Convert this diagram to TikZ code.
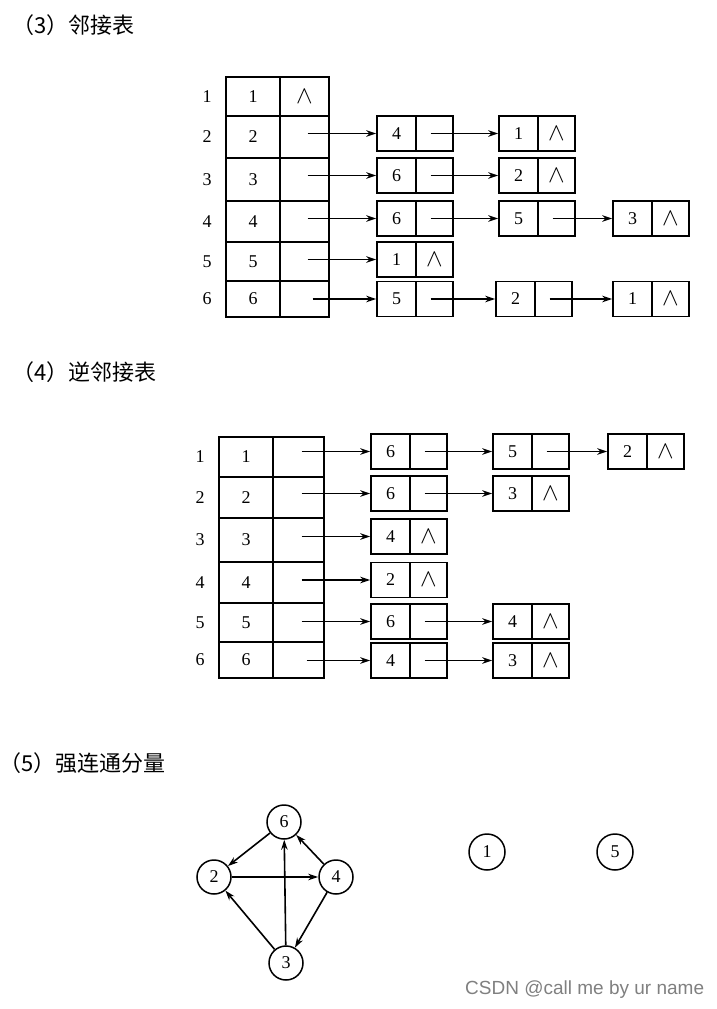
\documentclass[tikz,border=0pt]{standalone}
\usepackage{fontspec}
\setmainfont{Liberation Serif}
\newfontfamily\cjk{Noto Sans CJK SC}
\newfontfamily\wmfont{Liberation Sans}
\usetikzlibrary{arrows.meta}
\tikzset{
  cell/.style={draw, line width=1.6pt, inner sep=0pt, font=\fontsize{18}{18}\selectfont},
  nilsym/.style={inner sep=0pt, font=\fontsize{24}{24}\selectfont},
  rowlab/.style={inner sep=0pt, font=\fontsize{18}{18}\selectfont},
  arr/.style={-{Stealth[length=10pt,width=6.5pt]}, line width=1.6pt},
  gnode/.style={circle, draw, line width=1.5pt, minimum size=34pt, inner sep=0pt, font=\fontsize{18}{18}\selectfont},
  head/.style={anchor=west, inner sep=0pt, font=\cjk\fontsize{22}{22}\selectfont},
  wm/.style={anchor=west, inner sep=0pt, text=black!50, font=\wmfont\fontsize{19}{19}\selectfont},
  pbox/.pic={
    \node[cell, minimum width=39pt, minimum height=35pt] (-a) at (-18.5,0) {#1};
    \node[cell, minimum width=37pt, minimum height=35pt] (-b) at (19.5,0) {};
  },
  nbox/.pic={
    \node[cell, minimum width=39pt, minimum height=35pt] (-a) at (-18.5,0) {#1};
    \node[cell, minimum width=37pt, minimum height=35pt, font=\fontsize{24}{24}\selectfont] (-b) at (19.5,0) {$\wedge$};
  }
}
\begin{document}
\begin{tikzpicture}[x=1pt, y=-1pt]
\useasboundingbox[fill=white] (0,0) rectangle (717,1009);

% ---------- headings ----------
\node[head] (h3) at (12,25) {（3）邻接表};
\node[head] (h4) at (12,372) {（4）逆邻接表};
\node[head] (h5) at (-1,763) {（5）强连通分量};

% ---------- (3) adjacency list ----------
\foreach \i/\t/\b in {1/77/116, 2/116/158, 3/158/201, 4/201/242, 5/242/281, 6/281/317}{
  \node[cell, minimum width=54pt, minimum height={(\b-\t)*1pt}] (A3\i) at (253,{(\t+\b)/2}) {\i};
  \node[cell, minimum width=49pt, minimum height={(\b-\t)*1pt}] (B3\i) at (304.5,{(\t+\b)/2}) {};
  \node[rowlab] (L3\i) at (207,{(\t+\b)/2}) {\i};
}
\node[nilsym] (N31) at (B31) {$\wedge$};

\pic (p21) at (415,133.5) {pbox=4};
\pic (p22) at (537,133.5) {nbox=1};
\pic (p31) at (415,175.5) {pbox=6};
\pic (p32) at (537,175.5) {nbox=2};
\pic (p41) at (415,218.5) {pbox=6};
\pic (p42) at (537,218.5) {pbox=5};
\pic (p43) at (651,218.5) {nbox=3};
\pic (p51) at (415,259.5) {nbox=1};
\pic (p61) at (415,299) {pbox=5};
\pic (p62) at (534,299) {pbox=2};
\pic (p63) at (651,299) {nbox=1};

\draw[arr] ([xshift=3pt]B32.center |- p21-a.west) -- (p21-a.west);
\draw[arr] ([xshift=3pt]B33.center |- p31-a.west) -- (p31-a.west);
\draw[arr] ([xshift=3pt]B34.center |- p41-a.west) -- (p41-a.west);
\draw[arr] ([xshift=3pt]B35.center |- p51-a.west) -- (p51-a.west);
\draw[arr] ([xshift=8pt]B36.center |- p61-a.west) -- (p61-a.west);
\draw[arr] ([xshift=-4pt]p21-b.center) -- (p22-a.west);
\draw[arr] ([xshift=-4pt]p31-b.center) -- (p32-a.west);
\draw[arr] ([xshift=-4pt]p41-b.center) -- (p42-a.west);
\draw[arr] ([xshift=-4pt]p42-b.center) -- (p43-a.west);
\draw[arr] ([xshift=-4pt]p61-b.center) -- (p62-a.west);
\draw[arr] ([xshift=-4pt]p62-b.center) -- (p63-a.west);

% ---------- (4) inverse adjacency list ----------
\foreach \i/\t/\b in {1/437/477, 2/477/518, 3/518/562, 4/562/603, 5/603/642, 6/642/678}{
  \node[cell, minimum width=54pt, minimum height={(\b-\t)*1pt}] (A4\i) at (246,{(\t+\b)/2}) {\i};
  \node[cell, minimum width=51pt, minimum height={(\b-\t)*1pt}] (B4\i) at (298.5,{(\t+\b)/2}) {};
  \node[rowlab] (L4\i) at (200,{(\t+\b)/2}) {\i};
}

\pic (q11) at (409,451.5) {pbox=6};
\pic (q12) at (531,451.5) {pbox=5};
\pic (q13) at (646,451.5) {nbox=2};
\pic (q21) at (409,493.5) {pbox=6};
\pic (q22) at (531,493.5) {nbox=3};
\pic (q31) at (409,536.5) {nbox=4};
\pic (q41) at (409,580) {nbox=2};
\pic (q51) at (409,621.5) {pbox=6};
\pic (q52) at (531,621.5) {nbox=4};
\pic (q61) at (409,660.5) {pbox=4};
\pic (q62) at (531,660.5) {nbox=3};

\draw[arr] ([xshift=3pt]B41.center |- q11-a.west) -- (q11-a.west);
\draw[arr] ([xshift=3pt]B42.center |- q21-a.west) -- (q21-a.west);
\draw[arr] ([xshift=3pt]B43.center |- q31-a.west) -- (q31-a.west);
\draw[arr] ([xshift=3pt]B44.center |- q41-a.west) -- (q41-a.west);
\draw[arr] ([xshift=3pt]B45.center |- q51-a.west) -- (q51-a.west);
\draw[arr] ([xshift=8pt]B46.center |- q61-a.west) -- (q61-a.west);
\draw[arr] ([xshift=-4pt]q11-b.center) -- (q12-a.west);
\draw[arr] ([xshift=-4pt]q12-b.center) -- (q13-a.west);
\draw[arr] ([xshift=-4pt]q21-b.center) -- (q22-a.west);
\draw[arr] ([xshift=-4pt]q51-b.center) -- (q52-a.west);
\draw[arr] ([xshift=-4pt]q61-b.center) -- (q62-a.west);

% ---------- (5) strongly connected components ----------
\node[gnode] (g6) at (284,822) {6};
\node[gnode] (g2) at (214,877) {2};
\node[gnode] (g4) at (336,877) {4};
\node[gnode] (g3) at (286,963) {3};
\node[gnode, minimum size=36pt] (g1) at (487,852) {1};
\node[gnode, minimum size=36pt] (g5) at (615,852) {5};

\draw[arr] (g6) -- (g2);
\draw[arr] (g2) -- (g4);
\draw[arr] (g4) -- (g6);
\draw[arr] (g3) -- (g6);
\draw[arr] (g3) -- (g2);
\draw[arr] (g4) -- (g3);

% ---------- watermark ----------
\node[wm] (wm) at (465,990) {CSDN @call me by ur name};
\end{tikzpicture}
\end{document}
